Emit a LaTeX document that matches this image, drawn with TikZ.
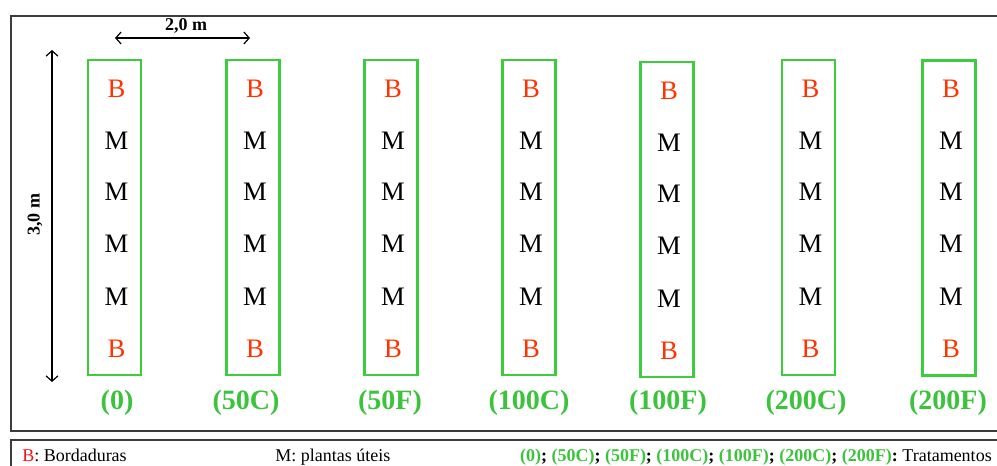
\documentclass[tikz,border=0pt]{standalone}
\usepackage{fontspec}
\setmainfont{Liberation Serif}
\usetikzlibrary{arrows.meta,calc}
\definecolor{boxgreen}{RGB}{60,205,60}
\definecolor{labgreen}{RGB}{60,195,60}
\definecolor{bred}{RGB}{255,50,0}
\definecolor{legred}{RGB}{240,20,20}
\definecolor{frame}{RGB}{60,60,60}
\begin{document}
\begin{tikzpicture}[x=0.75pt,y=-0.75pt,
  plot/.style={draw=boxgreen,line width=1.8pt,minimum width=39.5pt,minimum height=236pt,inner sep=0pt},
  bl/.style={text=bred,font=\fontsize{20}{20}\selectfont,inner sep=0pt},
  ml/.style={text=black,font=\fontsize{20}{20}\selectfont,inner sep=0pt},
  tl/.style={text=labgreen,font=\fontsize{21}{21}\selectfont\bfseries,inner sep=0pt},
  dim/.style={line width=0.9pt,{Straight Barb[length=4pt,width=9pt]}-{Straight Barb[length=4pt,width=9pt]}},
  leg/.style={font=\fontsize{13.5}{13.5}\selectfont,inner sep=0pt}]
\useasboundingbox (0,0) rectangle (997,466);
\fill[white] (0,0) rectangle (997,466);
% frames
\draw[frame,line width=1.6pt] (11,16) rectangle (1005,431);
\draw[frame,line width=1.6pt] (11,440) rectangle (1005,480);
% plots
\foreach \n/\cx/\cy/\lx/\lab in {1/114.5/217.5/117/(0), 2/253/217.5/246/(50C), 3/391/217.5/390/(50F), 4/529/217.5/529/(100C), 5/667/219.5/668/(100F), 6/808.5/217.5/806/(200C), 7/949/218/948/(200F)}{
  \node[plot] (p\n) at (\cx,\cy) {};
  \node[bl] (b\n a) at ($(\cx,\cy)+(2,-129)$) {B};
  \node[ml] (m\n a) at ($(\cx,\cy)+(2,-77)$) {M};
  \node[ml] (m\n b) at ($(\cx,\cy)+(2,-26)$) {M};
  \node[ml] (m\n c) at ($(\cx,\cy)+(2,26)$) {M};
  \node[ml] (m\n d) at ($(\cx,\cy)+(2,79)$) {M};
  \node[bl] (b\n b) at ($(\cx,\cy)+(2,131)$) {B};
  \node[tl] (t\n) at (\lx,403) {\lab};
}
% dimensions
\coordinate (h1) at (115,38);
\coordinate (h2) at (250,38);
\draw[dim] (h1) -- (h2);
\node[font=\fontsize{13.5}{13.5}\selectfont\bfseries,inner sep=0pt] (hl) at (186,26) {2,0 m};
\coordinate (v1) at (52,50);
\coordinate (v2) at (52,382);
\draw[dim] (v1) -- (v2);
\node[font=\fontsize{13.5}{13.5}\selectfont\bfseries,inner sep=0pt,rotate=90] (vl) at (35,215) {3,0 m};
% legend
\node[leg,anchor=base west] (l1) at (22,462) {\textcolor{legred}{B}: Bordaduras};
\node[leg,anchor=base west] (l2) at (275,462) {M: plantas úteis};
\node[leg,anchor=base east] (l3) at (992,462) {\textcolor{labgreen}{\bfseries (0)}\textbf{;} \textcolor{labgreen}{\bfseries (50C)}\textbf{;} \textcolor{labgreen}{\bfseries (50F)}\textbf{;} \textcolor{labgreen}{\bfseries (100C)}\textbf{;} \textcolor{labgreen}{\bfseries (100F)}\textbf{;} \textcolor{labgreen}{\bfseries (200C)}\textbf{;} \textcolor{labgreen}{\bfseries (200F)}\textbf{:} Tratamentos};
\end{tikzpicture}
\end{document}
